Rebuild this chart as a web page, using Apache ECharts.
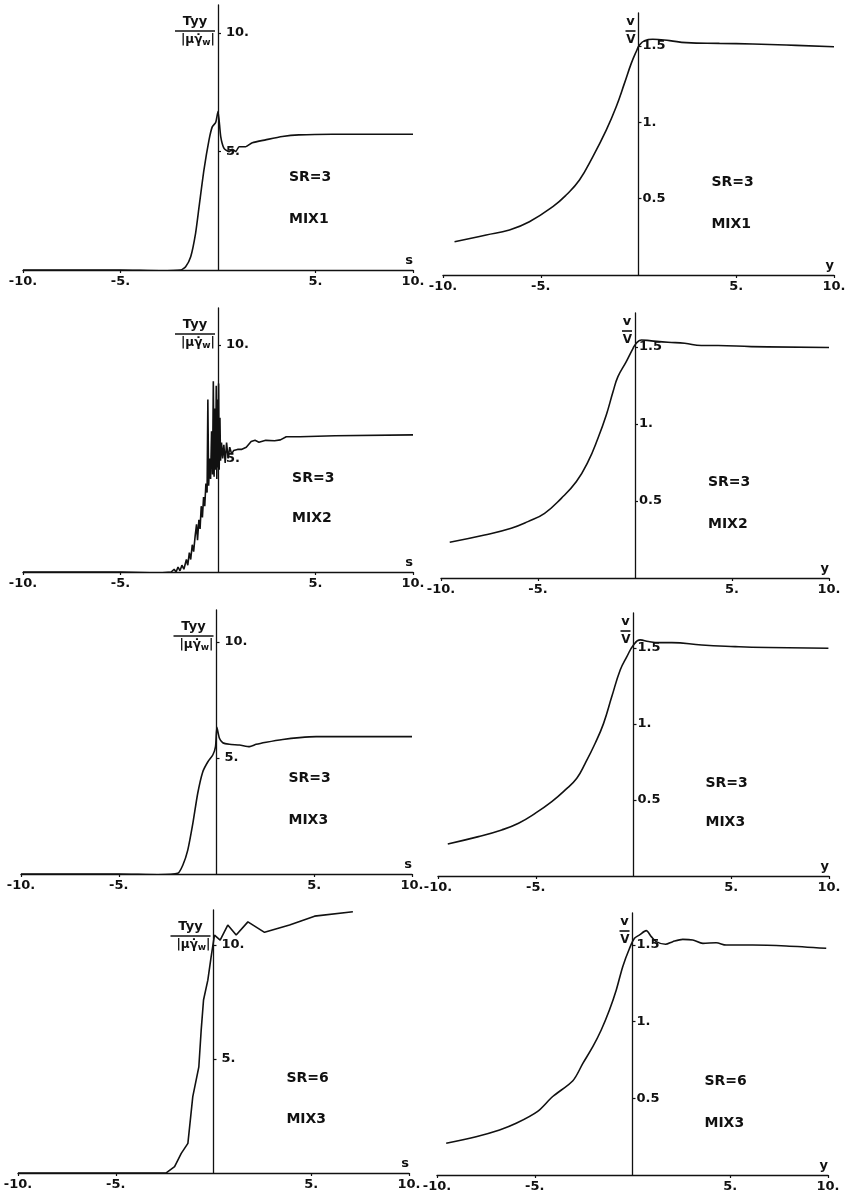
<!DOCTYPE html>
<html><head><meta charset="utf-8">
<script src="https://cdn.jsdelivr.net/npm/echarts@6/dist/echarts.min.js"></script>
<style>html,body{margin:0;padding:0;background:#fff}#c{width:845px;height:1200px}</style>
</head><body><div id="c"></div>
<script>
// ---------- data ----------
const xTickValues = [-10, -5, 5, 10];
const tyyTickValues = [5, 10];
const velTickValues = [0.5, 1, 1.5];

const tyyMix1SR3 = [[-10,0],[-5,0],[-3,-0.03],[-1.91,0],[-1.66,0.14],[-1.40,0.56],[-1.15,1.55],[-0.97,2.67],[-0.72,4.22],[-0.46,5.49],[-0.29,6.05],[-0.12,6.22],[0,6.68],[0.14,5.63],[0.31,5.13],[0.56,4.99],[0.73,5.09],[0.91,5.0],[1.08,5.2],[1.42,5.2],[1.76,5.37],[2.44,5.49],[3.30,5.63],[4.15,5.70],[5.86,5.73],[10,5.73]];
const tyyMix2SR3 = [[-10,0],[-5,0],[-3,-0.05],[-2.4,0],[-2.25,0.12],[-2.15,0.0],[-2.05,0.22],[-1.95,0.05],[-1.85,0.3],[-1.75,0.12],[-1.62,0.55],[-1.55,0.3],[-1.47,0.85],[-1.4,0.55],[-1.32,1.2],[-1.25,0.9],[-1.17,1.6],[-1.1,2.1],[-1.05,1.4],[-0.98,2.3],[-0.92,1.9],[-0.86,2.9],[-0.8,2.4],[-0.74,3.3],[-0.68,2.9],[-0.62,3.9],[-0.56,3.5],[-0.52,7.6],[-0.48,3.8],[-0.43,5.0],[-0.38,4.1],[-0.33,6.2],[-0.28,4.3],[-0.24,8.4],[-0.2,4.2],[-0.16,7.2],[-0.12,4.5],[-0.09,8.2],[-0.06,4.1],[-0.03,7.6],[0,4.6],[0.03,8.3],[0.06,4.5],[0.1,6.8],[0.13,4.9],[0.18,5.7],[0.24,5.0],[0.3,5.6],[0.37,4.8],[0.44,5.7],[0.52,5.0],[0.6,5.5],[0.7,5.2],[0.8,5.35],[1.0,5.4],[1.2,5.4],[1.45,5.5],[1.7,5.75],[1.9,5.8],[2.1,5.72],[2.45,5.8],[2.9,5.78],[3.2,5.82],[3.5,5.96],[4.2,5.96],[6,6.0],[10,6.04]];
const tyyMix3SR3 = [[-10,0],[-5,0],[-3,-0.03],[-1.98,0.03],[-1.72,0.39],[-1.47,1.03],[-1.21,2.18],[-0.96,3.48],[-0.70,4.41],[-0.44,4.84],[-0.19,5.13],[-0.05,5.49],[0.02,6.32],[0.15,5.85],[0.32,5.66],[0.66,5.59],[1.18,5.56],[1.69,5.49],[2.03,5.59],[2.54,5.68],[3.39,5.80],[4.25,5.88],[5.10,5.92],[10,5.92]];
const tyyMix3SR6 = [[-10,0],[-5,0],[-2.42,0.01],[-1.99,0.28],[-1.65,0.86],[-1.31,1.30],[-1.06,3.35],[-0.75,4.66],[-0.63,6.27],[-0.51,7.59],[-0.29,8.46],[-0.12,9.49],[0.05,10.44],[0.34,10.22],[0.73,10.88],[1.16,10.44],[1.76,11.02],[2.61,10.56],[3.89,10.88],[5.17,11.27],[7.13,11.46]];

const velMix1SR3 = [[-9.41,0.218],[-7.79,0.262],[-6.60,0.295],[-5.58,0.349],[-4.38,0.448],[-3.70,0.524],[-3.02,0.622],[-2.34,0.774],[-1.65,0.949],[-1.14,1.102],[-0.72,1.255],[-0.37,1.386],[-0.12,1.462],[0.05,1.506],[0.31,1.535],[0.73,1.544],[1.59,1.535],[2.44,1.522],[4.14,1.517],[5.85,1.513],[7.55,1.506],[10,1.495]];
const velMix2SR3 = [[-9.55,0.232],[-7.75,0.279],[-6.38,0.323],[-5.52,0.366],[-4.66,0.420],[-3.80,0.517],[-3.02,0.626],[-2.42,0.755],[-1.91,0.907],[-1.48,1.058],[-1.13,1.210],[-0.88,1.307],[-0.45,1.405],[-0.10,1.491],[0.07,1.524],[0.33,1.545],[0.84,1.539],[1.70,1.530],[2.56,1.524],[3.42,1.509],[4.28,1.509],[5.99,1.502],[10,1.496]];
const velMix3SR3 = [[-9.50,0.211],[-7.93,0.259],[-6.74,0.303],[-5.88,0.347],[-5.03,0.412],[-4.18,0.489],[-3.49,0.566],[-2.90,0.643],[-2.47,0.741],[-1.96,0.873],[-1.53,1.004],[-1.11,1.180],[-0.68,1.355],[-0.34,1.443],[0,1.520],[0.34,1.553],[0.77,1.542],[1.28,1.535],[1.96,1.535],[3.49,1.520],[5.20,1.509],[6.05,1.505],[9.97,1.498]];
const velMix3SR6 = [[-9.53,0.207],[-8.00,0.250],[-6.80,0.294],[-5.95,0.337],[-4.85,0.415],[-4.08,0.512],[-3.05,0.615],[-2.54,0.728],[-2.03,0.837],[-1.60,0.946],[-1.18,1.076],[-0.83,1.207],[-0.50,1.359],[-0.15,1.479],[0.10,1.544],[0.36,1.566],[0.70,1.594],[0.96,1.555],[1.21,1.522],[1.69,1.505],[2.06,1.522],[2.57,1.537],[3.08,1.533],[3.60,1.511],[4.28,1.515],[4.79,1.500],[5.47,1.500],[6.15,1.500],[7.86,1.494],[9.91,1.479]];

const srLabels  = ['SR=3','SR=3','SR=3','SR=6','SR=3','SR=3','SR=3','SR=6'];
const mixLabels = ['MIX1','MIX2','MIX3','MIX3','MIX1','MIX2','MIX3','MIX3'];
const annX  = [3.64, 3.8, 3.68, 3.73, 3.73, 3.76, 3.68, 3.68];
const srY   = [3.92, 4.14, 4.14, 4.17, 0.61, 0.62, 0.61, 0.61];
const mixY  = [2.15, 2.38, 2.33, 2.37, 0.334, 0.35, 0.35, 0.34];

// ---------- layout ----------
const seriesList = [tyyMix1SR3, tyyMix2SR3, tyyMix3SR3, tyyMix3SR6, velMix1SR3, velMix2SR3, velMix3SR3, velMix3SR6];
const kinds = ['tyy','tyy','tyy','tyy','vel','vel','vel','vel'];
const boxes = [
  [23, 5, 390, 265], [23, 308, 390, 264], [21, 610, 391, 264], [18, 910, 391, 263],
  [443, 13, 391, 262], [441, 313, 388, 265], [438, 613, 391, 263], [437, 913, 391, 262]
];
const yMaxes = [11.18, 11.63, 11.38, 11.54, 1.716, 1.72, 1.73, 1.709];
const smoothness = [0.2, 0, 0.2, 0, 0.45, 0.45, 0.45, 0.3];

const F = 'DejaVu Sans';
const INK = '#111';

const grid = [], xAxis = [], yAxis = [], series = [];
boxes.forEach((b, i) => {
  const isTyy = kinds[i] === 'tyy';
  grid.push({left: b[0], top: b[1], width: b[2], height: b[3], outerBoundsMode: 'none', containLabel: false});
  xAxis.push({
    type: 'value', gridIndex: i, min: -10, max: 10, interval: 5,
    name: isTyy ? 's' : 'y', nameLocation: 'end', nameGap: 0, nameMoveOverlap: false,
    nameTextStyle: {fontFamily: F, fontWeight: 'bold', fontSize: 13, color: INK, align: 'right', verticalAlign: 'bottom', padding: [0, 0, 3, 0]},
    axisLine: {show: true, onZero: false, lineStyle: {color: INK, width: 1.3}},
    axisTick: {show: true, length: 3, customValues: xTickValues, lineStyle: {color: INK, width: 1.2}},
    axisLabel: {show: true, customValues: xTickValues, formatter: v => v + '.', fontFamily: F, fontWeight: 'bold', fontSize: 13, color: INK, margin: 5},
    splitLine: {show: false}
  });
  yAxis.push({
    type: 'value', gridIndex: i, min: 0, max: yMaxes[i],
    position: 'left', offset: -b[2] / 2,
    name: isTyy ? '{n|Tyy}\n{b| }\n{d||μγ̇}{s|w}{d||}' : '{n|v}\n{c| }\n{d|V}',
    nameLocation: 'end', nameGap: isTyy ? -10 : -2, nameMoveOverlap: false,
    nameTextStyle: {
      align: 'right', verticalAlign: 'top', padding: [0, 3, 0, 0],
      rich: {
        n: {fontFamily: F, fontWeight: 'bold', fontSize: 13, color: INK, align: 'center', lineHeight: 14},
        b: {width: 40, height: 1.6, backgroundColor: INK, fontSize: 1, lineHeight: 4, align: 'center'},
        c: {width: 10, height: 1.6, backgroundColor: INK, fontSize: 1, lineHeight: 4, align: 'center'},
        d: {fontFamily: F, fontWeight: 'bold', fontSize: 12, color: INK, lineHeight: 14},
        s: {fontFamily: F, fontWeight: 'bold', fontSize: 9, color: INK, lineHeight: 14, verticalAlign: 'bottom', padding: [4, 0, 0, 0]}
      }
    },
    axisLine: {show: true, onZero: false, lineStyle: {color: INK, width: 1.3}},
    axisTick: {show: true, inside: true, length: 3, customValues: isTyy ? tyyTickValues : velTickValues, lineStyle: {color: INK, width: 1.2}},
    axisLabel: {
      show: true, inside: true, customValues: isTyy ? tyyTickValues : velTickValues,
      formatter: v => isTyy ? v + '.' : (v === 1 ? '1.' : String(v)),
      fontFamily: F, fontWeight: 'bold', fontSize: 13, color: INK, margin: isTyy ? 8 : 4
    },
    splitLine: {show: false}
  });
  series.push({
    type: 'line', xAxisIndex: i, yAxisIndex: i, data: seriesList[i],
    showSymbol: false, smooth: smoothness[i], silent: true,
    lineStyle: {color: INK, width: 1.6}, z: 3
  });
  series.push({
    type: 'scatter', xAxisIndex: i, yAxisIndex: i, silent: true,
    symbolSize: 0, itemStyle: {color: INK, opacity: 1},
    data: [[annX[i], srY[i], srLabels[i]], [annX[i], mixY[i], mixLabels[i]]],
    label: {show: true, position: 'right', distance: 0, formatter: p => p.data[2],
      fontFamily: F, fontWeight: 'bold', fontSize: 14, color: INK, opacity: 1, textBorderWidth: 0},
    labelLayout: {hideOverlap: false},
    z: 4
  });
});

const chart = echarts.init(document.getElementById('c'), null, {renderer: 'canvas'});
chart.setOption({animation: false, backgroundColor: '#fff', grid, xAxis, yAxis, series});
</script></body></html>
